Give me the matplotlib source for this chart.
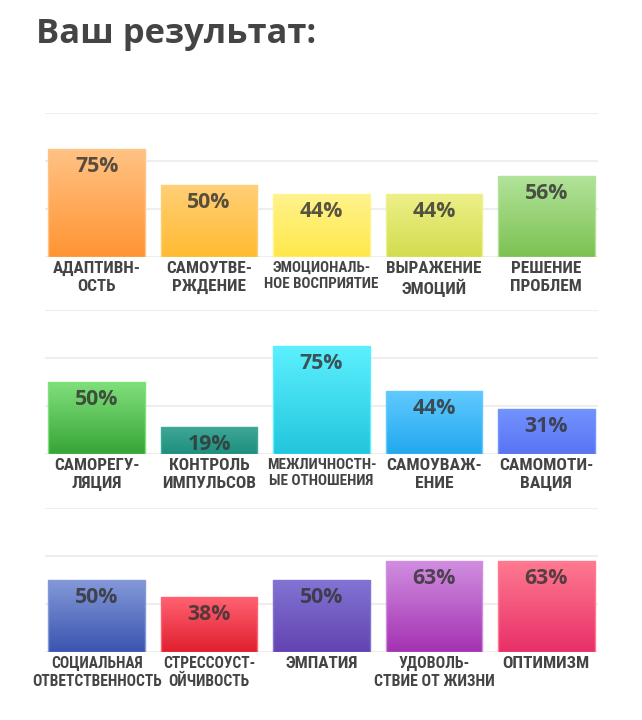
import numpy as np
import matplotlib
matplotlib.use("Agg")
import matplotlib.pyplot as plt
from matplotlib import font_manager
from matplotlib.colors import LinearSegmentedColormap

# ---- data ----
title = "Ваш результат:"
row1_labels = ["АДАПТИВН-\nОСТЬ", "САМОУТВЕ-\nРЖДЕНИЕ", "ЭМОЦИОНАЛЬ-\nНОЕ ВОСПРИЯТИЕ", "ВЫРАЖЕНИЕ\nЭМОЦИЙ", "РЕШЕНИЕ\nПРОБЛЕМ"]
row1_values = [75, 50, 44, 44, 56]
row2_labels = ["САМОРЕГУ-\nЛЯЦИЯ", "КОНТРОЛЬ\nИМПУЛЬСОВ", "МЕЖЛИЧНОСТН-\nЫЕ ОТНОШЕНИЯ", "САМОУВАЖ-\nЕНИЕ", "САМОМОТИ-\nВАЦИЯ"]
row2_values = [50, 19, 75, 44, 31]
row3_labels = ["СОЦИАЛЬНАЯ\nОТВЕТСТВЕННОСТЬ", "СТРЕССОУСТ-\nОЙЧИВОСТЬ", "ЭМПАТИЯ", "УДОВОЛЬ-\nСТВИЕ ОТ ЖИЗНИ", "ОПТИМИЗМ"]
row3_values = [50, 38, 50, 63, 63]

# ---- styles ----
row1_colors = [("#FFC385", "#FF9433"), ("#FFCF78", "#FFBB30"), ("#FFF38E", "#FFE84A"),
               ("#EEF08A", "#D2DC4E"), ("#B2E39A", "#7DC152")]
row2_colors = [("#80E07C", "#37A436"), ("#40A898", "#1E8F7E"), ("#5CF0FF", "#22C6DD"),
               ("#62CAFF", "#22A8EE"), ("#7393FF", "#5A73F2")]
row3_colors = [("#8399D8", "#3B54B0"), ("#FF6272", "#E01F2E"), ("#8274D4", "#6343B1"),
               ("#D08EE0", "#A432B2"), ("#FF7A90", "#E82F68")]
row1_sizes = [12.3, 12.3, 10.8, 12.3, 12.3]
row2_sizes = [12.3, 12.5, 10.9, 12.6, 12.6]
row3_sizes = [11.2, 11.2, 12.4, 11.4, 12.5]

avail = {f.name for f in font_manager.fontManager.ttflist}
def pick(names):
    for n in names:
        if n in avail:
            return n
    return "DejaVu Sans"

title_font = pick(["Open Sans", "Noto Sans", "DejaVu Sans"])
label_font = pick(["Liberation Sans Narrow", "Roboto Condensed", "Open Sans Condensed", "Noto Sans", "DejaVu Sans"])

W, H = 642, 720
fig = plt.figure(figsize=(W / 100, H / 100), dpi=100)
fig.patch.set_facecolor("white")

fig.text(36 / W, 1 - 34 / H, title, fontsize=24.8, fontweight="bold", color="#444444",
         family=title_font, va="center", ha="left")

panels = [
    (257, row1_labels, row1_values, row1_colors, row1_sizes),
    (454, row2_labels, row2_values, row2_colors, row2_sizes),
    (652, row3_labels, row3_values, row3_colors, row3_sizes),
]

for base_px, labels, values, colors, sizes in panels:
    ax = fig.add_axes([45 / W, (H - base_px) / H, 553 / W, 144 / H])
    x = np.arange(len(values))
    ax.set_xlim(-0.46, len(values) - 1 + 0.46)
    ax.set_ylim(0, 100)
    for g in [0, 100 / 3, 200 / 3, 100]:
        ax.axhline(g, color="#EEEEEE", lw=1.5, zorder=0)
    bars = ax.bar(x, values, width=0.86, color="none", zorder=2)
    for b, (ctop, cbot), v in zip(bars, colors, values):
        x0, y0 = b.get_x(), b.get_y()
        w, h = b.get_width(), b.get_height()
        cmap = LinearSegmentedColormap.from_list("g", [cbot, ctop])
        grad = np.linspace(0, 1, 256).reshape(-1, 1)
        im = ax.imshow(grad, cmap=cmap, origin="lower", aspect="auto",
                       extent=(x0, x0 + w, y0, y0 + h), zorder=2)
        im.set_clip_path(b)
        b.set_edgecolor(ctop)
        b.set_linewidth(1.0)
        b.set_zorder(3)
        ax.annotate(f"{v}%", (x0 + w / 2, y0 + h), xytext=(0, -5), textcoords="offset points",
                    ha="center", va="top", fontsize=15.3, fontweight="bold",
                    color="#333333", alpha=0.82, family=title_font, zorder=4)
    ax.set_xticks(x)
    ax.set_xticklabels(labels, fontweight="bold", color="#444444",
                       family=label_font, linespacing=1.2)
    for t, s in zip(ax.get_xticklabels(), sizes):
        t.set_fontsize(s)
    ax.tick_params(axis="x", length=0, pad=3)
    ax.set_yticks([])
    for s in ax.spines.values():
        s.set_visible(False)
    ax.set_facecolor("none")

fig.savefig("out.png", dpi=100, facecolor="white")
